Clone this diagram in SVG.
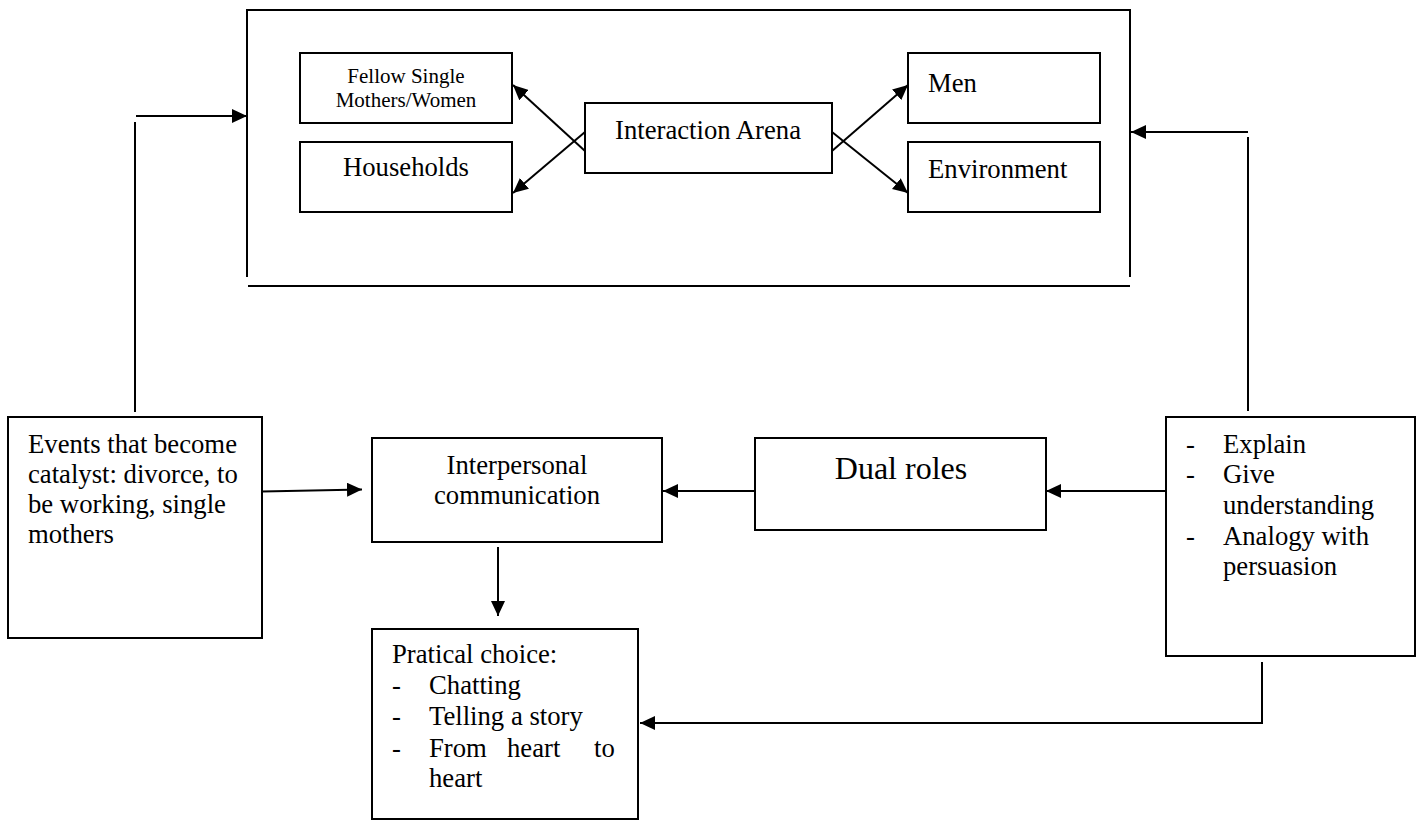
<svg xmlns="http://www.w3.org/2000/svg" width="1416" height="821" viewBox="0 0 1416 821">
<defs>
<style>
.box{fill:#fff;stroke:#000;stroke-width:2}
.ln{fill:none;stroke:#000;stroke-width:2}
.t{font-family:"Liberation Serif","Times New Roman",serif;fill:#000;font-size:26.7px}
.s{font-size:21px}
.c{text-anchor:middle}
.big{font-size:32px}
</style>
<marker id="ah" markerUnits="userSpaceOnUse" markerWidth="16" markerHeight="14" viewBox="0 0 16 14" refX="15" refY="7" orient="auto">
<path d="M0,0 L15,7 L0,14 z" fill="#000"/>
</marker>
</defs>
<rect width="1416" height="821" fill="#fff"/>
<g id="arena-frame">
<path class="ln" d="M247,277 V10 H1130 V277"/>
<line class="ln" x1="248" y1="286" x2="1130" y2="286"/>
</g>
<g id="fellow">
<rect class="box" x="300" y="53" width="212" height="70"/>
<text class="t s c" x="406" y="83">Fellow Single</text>
<text class="t s c" x="406" y="107">Mothers/Women</text>
</g>
<g id="households">
<rect class="box" x="300" y="142" width="212" height="70"/>
<text class="t c" x="406" y="176">Households</text>
</g>
<g id="interaction-arena">
<rect class="box" x="585" y="103" width="247" height="70"/>
<text class="t c" x="708" y="139">Interaction Arena</text>
</g>
<g id="men">
<rect class="box" x="908" y="53" width="192" height="70"/>
<text class="t" x="928" y="92">Men</text>
</g>
<g id="environment">
<rect class="box" x="908" y="142" width="192" height="70"/>
<text class="t" x="928" y="178">Environment</text>
</g>
<g id="events">
<rect class="box" x="8" y="417" width="254" height="221"/>
<text class="t" x="28" y="453">Events that become</text>
<text class="t" x="28" y="483">catalyst: divorce, to</text>
<text class="t" x="28" y="513">be working, single</text>
<text class="t" x="28" y="543">mothers</text>
</g>
<g id="interpersonal">
<rect class="box" x="372" y="438" width="290" height="104"/>
<text class="t c" x="517" y="474">Interpersonal</text>
<text class="t c" x="517" y="504">communication</text>
</g>
<g id="dual-roles">
<rect class="box" x="755" y="438" width="291" height="92"/>
<text class="t big c" x="901" y="479">Dual roles</text>
</g>
<g id="explain">
<rect class="box" x="1166" y="417" width="249" height="239"/>
<text class="t" x="1186" y="453">-</text>
<text class="t" x="1223" y="453">Explain</text>
<text class="t" x="1186" y="483">-</text>
<text class="t" x="1223" y="483">Give</text>
<text class="t" x="1223" y="514">understanding</text>
<text class="t" x="1186" y="545">-</text>
<text class="t" x="1223" y="545">Analogy with</text>
<text class="t" x="1223" y="575">persuasion</text>
</g>
<g id="practical">
<rect class="box" x="372" y="629" width="266" height="190"/>
<text class="t" x="392" y="663">Pratical choice:</text>
<text class="t" x="392" y="694">-</text>
<text class="t" x="429" y="694">Chatting</text>
<text class="t" x="392" y="725">-</text>
<text class="t" x="429" y="725">Telling a story</text>
<text class="t" x="392" y="757">-</text>
<text class="t" x="429" y="757">From</text>
<text class="t" x="507" y="757">heart</text>
<text class="t" x="594" y="757">to</text>
<text class="t" x="429" y="787">heart</text>
</g>
<g id="connectors">
<line class="ln" x1="585" y1="151" x2="513" y2="85" marker-end="url(#ah)"/>
<line class="ln" x1="585" y1="132" x2="513" y2="193" marker-end="url(#ah)"/>
<line class="ln" x1="832" y1="151" x2="908" y2="85" marker-end="url(#ah)"/>
<line class="ln" x1="832" y1="132" x2="908" y2="193" marker-end="url(#ah)"/>
<line class="ln" x1="135" y1="122" x2="135" y2="412"/>
<line class="ln" x1="136" y1="116" x2="247" y2="116" marker-end="url(#ah)"/>
<line class="ln" x1="1248" y1="137" x2="1248" y2="411"/>
<line class="ln" x1="1248" y1="132" x2="1131" y2="132" marker-end="url(#ah)"/>
<line class="ln" x1="262" y1="491.5" x2="362" y2="489.5" marker-end="url(#ah)"/>
<line class="ln" x1="755" y1="491" x2="663" y2="491" marker-end="url(#ah)"/>
<line class="ln" x1="1166" y1="491" x2="1046" y2="491" marker-end="url(#ah)"/>
<line class="ln" x1="498" y1="547" x2="498" y2="616" marker-end="url(#ah)"/>
<path class="ln" d="M1262,662 V723 H640" marker-end="url(#ah)"/>
</g>
</svg>
